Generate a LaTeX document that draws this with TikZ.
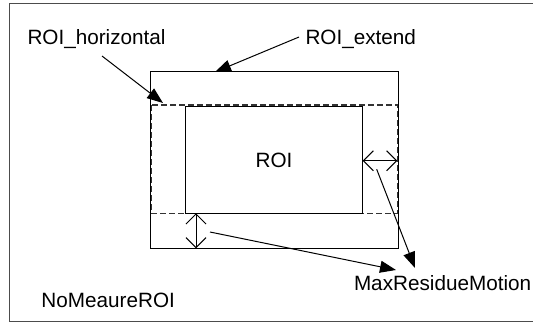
\documentclass[tikz,border=0pt]{standalone}
\usepackage{fontspec}
\setmainfont{Liberation Sans}
\usetikzlibrary{arrows.meta}

\tikzset{
  lbl/.style={inner sep=0pt, font=\fontsize{20.7}{24}\selectfont},
  bigtip/.style={-{Triangle[length=16pt,width=12pt]}},
  gaptip/.style={{Straight Barb[length=10pt,width=20pt]}-{Straight Barb[length=10pt,width=20pt]}},
  roiline/.style={line width=1pt},
  slack/.style={line width=1.2pt, gray!40!black, dash pattern=on 6pt off 3pt}
}

\begin{document}
\begin{tikzpicture}[x=1pt, y=-1pt, line width = 1pt]

\useasboundingbox (0,0) rectangle (533,322);

% outer frame, cut on the right
\draw[gray!60!black] (9.5,3) -- (545,3);
\draw[gray!60!black] (9.5,3) -- (9.5,321.5) -- (545,321.5);

% regions
\draw[roiline] (150.7,71.7) rectangle (398.3,248);
\draw[slack] (151.7,105) rectangle (397.3,213.3);
\draw[roiline] (185.7,106.7) rectangle (362.7,213.3);

% labels
\node[lbl, anchor=west] (horiz) at (27,39) {ROI\_horizontal};
\node[lbl, anchor=west] (ext) at (305,39) {ROI\_extend};
\node[lbl] (roi) at (274,160) {ROI};
\node[lbl, anchor=west] (maxres) at (353.5,283) {MaxResidueMotion};
\node[lbl, anchor=west] (nomeas) at (41,300) {NoMeaureROI};

% free ends
\coordinate (horizfoot) at (102,56);
\coordinate (horizend) at (163,103);
\coordinate (extend) at (215,72);
\coordinate (extfoot) at (299,37);
\coordinate (gapr1) at (362.7,160.7);
\coordinate (gapr2) at (397.3,160.7);
\coordinate (gapb1) at (196,213.3);
\coordinate (gapb2) at (196,248.3);
\coordinate (gaprfoot) at (376.7,169.3);
\coordinate (gapbfoot) at (210,232);
\coordinate (restipa) at (415,268);
\coordinate (restipb) at (396,270);

% pointers
\draw[bigtip] (horizfoot) -- (horizend);
\draw[bigtip] (extfoot) -- (extend);
\draw[bigtip] (gaprfoot) -- (restipa);
\draw[bigtip] (gapbfoot) -- (restipb);

% residue motion margins
\draw[gaptip] (gapr1) -- (gapr2);
\draw[gaptip] (gapb1) -- (gapb2);

\end{tikzpicture}
\end{document}
